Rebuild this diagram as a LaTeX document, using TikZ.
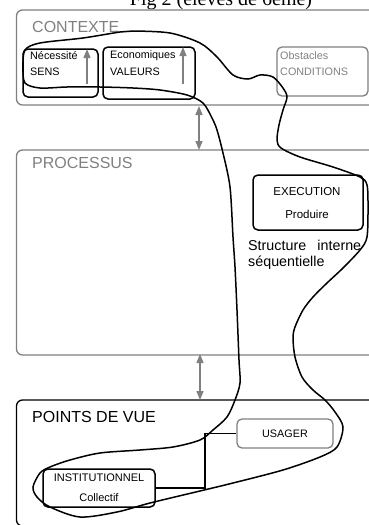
\documentclass[tikz,border=0pt]{standalone}
\usepackage{fontspec}
\setmainfont{Liberation Sans}
\newfontfamily\titlefont{Liberation Serif}
\usetikzlibrary{arrows.meta}
\definecolor{grayline}{HTML}{808080}
\begin{document}
\begin{tikzpicture}[x=1pt,y=-1pt,
  bigbox/.style={line width=1.3pt, rounded corners=6pt},
  sbox/.style={draw, line width=1.5pt, rounded corners=5pt, inner sep=0pt},
  gbox/.style={draw=grayline, line width=1.3pt, rounded corners=5pt, inner sep=0pt},
  head/.style={inner sep=0pt, anchor=west, font=\fontsize{16}{18}\selectfont},
  small/.style={inner sep=0pt, anchor=west, font=\fontsize{10.8}{13}\selectfont},
  garrow/.style={draw=grayline, line width=1.4pt, -{Triangle[width=7pt,length=9pt]}, fill=grayline},
  gdarrow/.style={draw=grayline, line width=1.4pt, {Triangle[width=7pt,length=9pt]}-{Triangle[width=7pt,length=9pt]}, fill=grayline},
  freehand/.style={line width=1.5pt}
]
\useasboundingbox (0,0) rectangle (369,525);

% title (cut at top)
\node[inner sep=0pt, anchor=base, font=\titlefont\fontsize{20}{22}\selectfont] (title) at (221,5) {Fig 2 (élèves de 6ème)};

% big boxes
\draw[bigbox, draw=grayline] (380,10) -- (16.5,10) -- (16.5,105) -- (380,105);
\draw[bigbox, draw=grayline] (380,150) -- (16.5,150) -- (16.5,355) -- (380,355);
\draw[bigbox, draw=black] (380,400) -- (16.5,400) -- (16.5,526) -- (380,526);

\node[head, text=grayline] (ctx) at (32,27) {CONTEXTE};
\node[head, text=grayline] (proc) at (32,163) {PROCESSUS};
\node[head] (pdv) at (32,417) {POINTS DE VUE};

% context boxes
\node[sbox, minimum width=75pt, minimum height=48pt] (nec) at (60.5,73) {};
\node[small] (necA) at (30,56) {Nécessité};
\node[small] (necB) at (30,72) {SENS};
\coordinate (a1s) at (87,84);
\coordinate (a1e) at (87,49);
\draw[garrow] (a1s) -- (a1e);

\node[sbox, minimum width=92pt, minimum height=52pt] (eco) at (149,73) {};
\node[small] (ecoA) at (110,56) {Economiques};
\node[small] (ecoB) at (110,72) {VALEURS};
\coordinate (a2s) at (183,84);
\coordinate (a2e) at (183,47);
\draw[garrow] (a2s) -- (a2e);

\node[gbox, minimum width=91pt, minimum height=49pt] (obs) at (322.5,71.5) {};
\node[small, text=grayline] (obsA) at (280,56) {Obstacles};
\node[small, text=grayline] (obsB) at (280,72) {CONDITIONS};

% double arrows
\coordinate (d1a) at (199,106);
\coordinate (d1b) at (199,150);
\draw[gdarrow] (d1a) -- (d1b);
\coordinate (d2a) at (200,354);
\coordinate (d2b) at (200,400);
\draw[gdarrow] (d2a) -- (d2b);

% process
\node[sbox, minimum width=110pt, minimum height=55pt] (exe) at (308,202.5) {};
\node[inner sep=0pt, font=\fontsize{11.5}{13}\selectfont] (exeA) at (307,192) {EXECUTION};
\node[inner sep=0pt, font=\fontsize{11.5}{13}\selectfont] (exeB) at (307,214) {Produire};
\node[inner sep=0pt, anchor=north west, align=left, font=\fontsize{14.3}{15.5}\selectfont] (struct) at (248,240)
  {\makebox[113pt][s]{Structure interne}\\séquentielle};

% points de vue
\node[gbox, minimum width=96pt, minimum height=29pt, font=\fontsize{10.8}{13}\selectfont] (usa) at (285,433.5) {USAGER};
\node[sbox, minimum width=112pt, minimum height=38pt, align=center, font=\fontsize{11}{20}\selectfont] (inst) at (99,488) {INSTITUTIONNEL\\Collectif};
\coordinate (junc) at (205,433.5);
\draw[line width=1.5pt] (inst.east) -- (inst.east -| junc) -- (junc) -- (usa.west);

% freehand loop
\draw[freehand] plot[smooth cycle, tension=0.5] coordinates {
(25,50) (40,43) (83,38) (120,32) (133,31) (170,33) (200,43) (217,57) (233,75) (248,79) (260,75) (273,77) (283,88) (287,97) (283,110) (279,125) (277,140) (281,148) (300,157) (333,167) (360,177) (367,185) (368,207) (367,237) (360,250) (343,268) (327,283) (313,297) (303,310) (295,327) (293,338) (295,357) (302,377) (313,390) (325,400) (335,412) (343,427) (337,447) (320,457) (283,470) (233,483) (200,491) (150,503) (117,512) (80,517) (50,507) (37,497) (33,487) (40,473) (50,467) (70,460) (100,453) (140,450) (173,447) (200,440) (213,430) (227,417) (235,400) (240,383) (239,360) (237,310) (235,267) (233,237) (230,187) (223,153) (217,130) (212,118) (203,103) (187,95) (160,90) (133,88) (100,87) (67,87) (40,88) (25,83) (23,67)};
\end{tikzpicture}
\end{document}
